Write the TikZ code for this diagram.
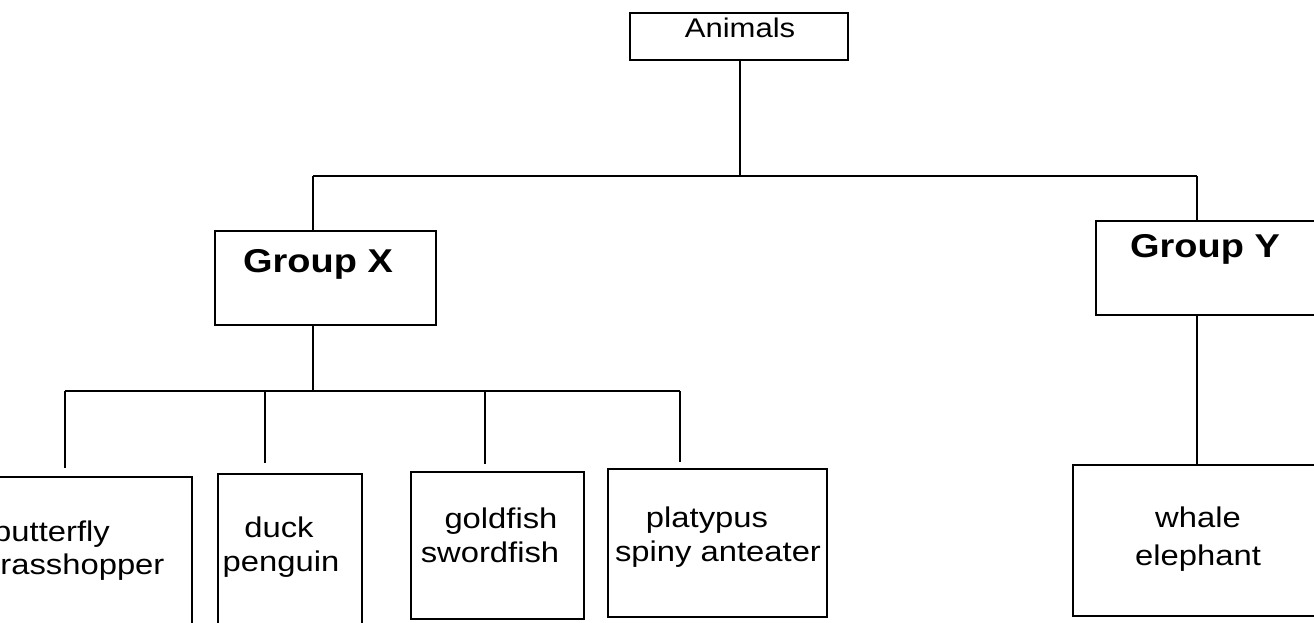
\documentclass[tikz,border=0pt]{standalone}
\usepackage{fontspec}
\usetikzlibrary{fit}
\setmainfont{Liberation Sans}[FakeStretch=1.15]
\begin{document}
\begin{tikzpicture}[x=1pt,y=-1pt,
  box/.style={draw, line width=2.2pt, rectangle, inner sep=0pt},
  wire/.style={line width=2.2pt},
  lbl/.style={inner sep=0pt, font=\fontsize{28.5}{34}\selectfont},
  glbl/.style={inner sep=0pt, font=\fontsize{33}{38}\selectfont\bfseries},
  albl/.style={inner sep=0pt, font=\fontsize{27}{32}\selectfont}]
\clip (0,0) rectangle (1314,622);
\fill[white] (0,0) rectangle (1314,622);
% boxes (corners as left,top / right,bottom)
\node[box, fit={(630,13)(848,60)}] (animals) {};
\node[box, fit={(215,231)(436,325)}] (gx) {};
\node[box, fit={(1096,221)(1345,315)}] (gy) {};
\node[box, fit={(-60,477)(192,660)}] (bf) {};
\node[box, fit={(218,474)(362,660)}] (dk) {};
\node[box, fit={(411,472)(584,619)}] (gf) {};
\node[box, fit={(608,469)(827,617)}] (pl) {};
\node[box, fit={(1073,465)(1345,616)}] (wh) {};
% texts
\node[albl, anchor=base] (tanimals) at (740,37) {Animals};
\node[glbl, anchor=base] (tgx) at (318,272) {Group X};
\node[glbl, anchor=base] (tgy) at (1205,257) {Group Y};
\node[lbl, anchor=base west] (tbf1) at (-7,541) {butterfly};
\node[lbl, anchor=base west] (tbf2) at (-18,574) {grasshopper};
\node[lbl, anchor=base] (tdk1) at (279,537) {duck};
\node[lbl, anchor=base] (tdk2) at (281,571) {penguin};
\node[lbl, anchor=base] (tgf1) at (501,528) {goldfish};
\node[lbl, anchor=base] (tgf2) at (490,562) {swordfish};
\node[lbl, anchor=base] (tpl1) at (707,527) {platypus};
\node[lbl, anchor=base] (tpl2) at (718,561) {spiny anteater};
\node[lbl, anchor=base] (twh1) at (1198,527) {whale};
\node[lbl, anchor=base] (twh2) at (1198,565) {elephant};
% junctions
\coordinate (top) at (740,176);
\coordinate (jx) at (313,176);
\coordinate (jy) at (1197,176);
\coordinate (mid) at (313,391);
\coordinate (j1) at (65,391);
\coordinate (j2) at (265,391);
\coordinate (j3) at (485,391);
\coordinate (j4) at (680,391);
% connectors
\draw[wire] (animals.south -| top) -- (top);
\draw[wire] (jx) -- (jy);
\draw[wire] (jx) -- (jx |- gx.north);
\draw[wire] (jy) -- (jy |- gy.north);
\draw[wire] (mid |- gx.south) -- (mid);
\draw[wire] (j1) -- (j4);
\draw[wire, shorten >=8pt] (j1) -- (j1 |- bf.north);
\draw[wire, shorten >=10pt] (j2) -- (j2 |- dk.north);
\draw[wire, shorten >=7pt] (j3) -- (j3 |- gf.north);
\draw[wire, shorten >=6pt] (j4) -- (j4 |- pl.north);
\draw[wire] (jy |- gy.south) -- (jy |- wh.north);
\end{tikzpicture}
\end{document}
